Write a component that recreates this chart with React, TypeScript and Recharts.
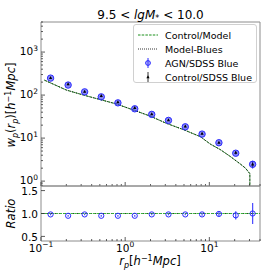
import React from 'react';
import { ComposedChart, Line, Scatter, XAxis, YAxis, ErrorBar, ReferenceLine, ReferenceArea } from 'recharts';

// measured points (13 rp bins)
const rp = [0.13, 0.21, 0.33, 0.52, 0.82, 1.3, 2.07, 3.27, 5.18, 8.2, 13.0, 20.6, 32.7];
const wpAgn = [248, 171, 119, 91, 66, 48, 35.6, 25.8, 18.3, 12.4, 7.8, 4.45, 2.46];
const wpAgnErr = [8, 5, 3.5, 2.5, 2, 1.5, 1.1, 0.8, 0.6, 0.45, 0.35, 0.35, 0.5];
const wpControl = [253, 180, 121, 96, 69, 50.5, 36.3, 26.3, 18.7, 12.7, 7.9, 4.6, 2.45];
const wpControlErr = [6, 4, 3, 2, 1.6, 1.2, 0.9, 0.7, 0.5, 0.4, 0.3, 0.3, 0.4];
const ratio = [0.98, 0.95, 0.98, 0.95, 0.95, 0.95, 0.98, 0.98, 0.98, 0.98, 0.99, 0.96, 1.0];
const ratioErr = [0.02, 0.02, 0.02, 0.02, 0.02, 0.02, 0.02, 0.02, 0.02, 0.03, 0.05, 0.09, 0.23];

// model curves
const rpModel = [0.11, 0.2, 0.32, 0.5, 0.79, 1.25, 1.98, 3.1, 4.9, 7.82, 10.3, 13.5, 17.8, 23.4, 26.9, 30.3, 30.3];
const wpControlModel = [222, 131, 100, 79, 62, 45, 32.5, 22, 15.8, 10.8, 7.24, 5.4, 3.72, 2.49, 2.0, 1.49, 0.01];
const wpModelBlues = [222, 131, 100, 79, 62, 45, 32.5, 22, 15.8, 10.8, 7.24, 5.4, 3.72, 2.49, 2.0, 1.49, 0.01];

// ticks
const xTicks = [0.1, 0.2, 0.3, 0.4, 0.5, 0.6, 0.7, 0.8, 0.9, 1, 2, 3, 4, 5, 6, 7, 8, 9, 10, 20, 30, 40];
const wpTicks = [0.8, 0.9, 1, 2, 3, 4, 5, 6, 7, 8, 9, 10, 20, 30, 40, 50, 60, 70, 80, 90,
  100, 200, 300, 400, 500, 600, 700, 800, 900, 1000, 2000, 3000, 4000, 5000];
const ratioTicks = [0.5, 1.0, 1.5];

const agnData = rp.map((r, i) => ({ rp: r, wp: wpAgn[i], err: wpAgnErr[i] }));
const controlData = rp.map((r, i) => ({ rp: r, wp: wpControl[i], err: wpControlErr[i] }));
const ratioData = rp.map((r, i) => ({ rp: r, ratio: ratio[i], err: ratioErr[i] }));
const controlModelData = rpModel.map((r, i) => ({ rp: r, wp: wpControlModel[i] }));
const modelBluesData = rpModel.map((r, i) => ({ rp: r, wp: wpModelBlues[i] }));

const FONT = '"DejaVu Sans", sans-serif';
const SPINE = '#8c8c8c';
const TICK = '#333';
const BLUE = '#2a2aff';
const GREEN = '#1a8f1a';

const isMajor = (v: number) => Math.abs(Math.log10(v) - Math.round(Math.log10(v))) < 1e-6;

const Pow10 = ({ x, y, v, anchor }: any) => {
  const e = Math.round(Math.log10(v));
  return (
    <text x={x} y={y} textAnchor={anchor} fontSize={10.5} fontFamily={FONT} fill="#000">
      10<tspan fontSize={7.5} dy={-4.5}>{e < 0 ? `\u2212${-e}` : `${e}`}</tspan>
    </text>
  );
};

const XTick = ({ x, y, payload, labels }: any) => {
  const major = isMajor(payload.value);
  return (
    <g>
      <line x1={x} x2={x} y1={y} y2={y - (major ? 4 : 2)} stroke={TICK} strokeWidth={0.8} />
      {labels && major && <Pow10 x={x} y={y + 10.5} v={payload.value} anchor="middle" />}
    </g>
  );
};

const LogYTick = ({ x, y, payload }: any) => {
  const major = isMajor(payload.value);
  return (
    <g>
      <line x1={x} x2={x + (major ? 4 : 2)} y1={y} y2={y} stroke={TICK} strokeWidth={0.8} />
      {major && <Pow10 x={x - 3} y={y + 3} v={payload.value} anchor="end" />}
    </g>
  );
};

const RatioTick = ({ x, y, payload }: any) => (
  <g>
    <line x1={x} x2={x + 4} y1={y} y2={y} stroke={TICK} strokeWidth={0.8} />
    <text x={x - 3} y={y + 4.5} textAnchor="end" fontSize={10.5} fontFamily={FONT} fill="#000">
      {payload.value.toFixed(1)}
    </text>
  </g>
);

const AgnDot = ({ cx, cy }: any) => (
  <circle cx={cx} cy={cy} r={3.2} stroke={BLUE} strokeWidth={1} fill="rgba(60,60,240,0.6)" />
);

const ControlDot = ({ cx, cy }: any) => (
  <path d={`M${cx},${cy - 1.8} L${cx + 1.6},${cy + 1.2} L${cx - 1.6},${cy + 1.2} Z`} fill="#000" />
);

const RatioDot = ({ cx, cy }: any) => (
  <circle cx={cx} cy={cy} r={2.6} stroke={BLUE} strokeWidth={1} fill="none" />
);

const legendItems = [
  { label: 'Control/Model', kind: 'green' },
  { label: 'Model-Blues', kind: 'black' },
  { label: 'AGN/SDSS Blue', kind: 'agn' },
  { label: 'Control/SDSS Blue', kind: 'control' },
];

const LegendBox = () => (
  <div
    style={{
      position: 'absolute', left: 133, top: 24, width: 122, height: 57,
      border: '1px solid #d0d0d0', borderRadius: 3, background: 'rgba(255,255,255,0.85)',
      fontFamily: FONT, fontSize: 9.5, color: '#000',
    }}
  >
    {legendItems.map((it, i) => (
      <div key={it.label} style={{ position: 'absolute', left: 3, top: 3 + i * 14, height: 14, display: 'flex', alignItems: 'center' }}>
        <svg width={22} height={14} style={{ marginRight: 6 }}>
          {it.kind === 'green' && <line x1={1} x2={21} y1={7} y2={7} stroke={GREEN} strokeWidth={1} strokeDasharray="2.5 1.2" />}
          {it.kind === 'black' && <line x1={1} x2={21} y1={7} y2={7} stroke="#000" strokeWidth={0.8} strokeDasharray="1 1" />}
          {it.kind === 'agn' && (
            <g>
              <line x1={11} x2={11} y1={2} y2={12} stroke={BLUE} strokeWidth={1} />
              <circle cx={11} cy={7} r={2.4} stroke={BLUE} fill="rgba(60,60,240,0.35)" />
            </g>
          )}
          {it.kind === 'control' && (
            <g>
              <line x1={11} x2={11} y1={2} y2={12} stroke="#000" strokeWidth={0.8} />
              <path d="M11,5.2 L12.6,8.2 L9.4,8.2 Z" fill="#000" />
            </g>
          )}
        </svg>
        <span style={{ whiteSpace: 'nowrap' }}>{it.label}</span>
      </div>
    ))}
  </div>
);

const Labels = () => (
  <svg width={274} height={274} style={{ position: 'absolute', left: 0, top: 0, pointerEvents: 'none' }}>
    <text x={150.5} y={18.5} textAnchor="middle" fontSize={12} fontFamily={FONT} fill="#000">
      9.5 &lt; <tspan fontStyle="italic">lgM</tspan>
      <tspan fontSize={8} dy={2.5}>*</tspan>
      <tspan dy={-2.5}> &lt; 10.0</tspan>
    </text>
    <text transform="translate(15,105) rotate(-90)" textAnchor="middle" fontSize={11.5} fontFamily={FONT} fill="#000">
      <tspan fontStyle="italic">w</tspan>
      <tspan fontStyle="italic" fontSize={8} dy={2.5}>p</tspan>
      <tspan dy={-2.5}>(</tspan>
      <tspan fontStyle="italic">r</tspan>
      <tspan fontStyle="italic" fontSize={8} dy={2.5}>p</tspan>
      <tspan dy={-2.5}>)[</tspan>
      <tspan fontStyle="italic">h</tspan>
      <tspan fontSize={8} dy={-4.5}>{'\u22121'}</tspan>
      <tspan fontStyle="italic" dy={4.5}>Mpc</tspan>
      <tspan>]</tspan>
    </text>
    <text transform="translate(15,213.5) rotate(-90)" textAnchor="middle" fontSize={11.5} fontStyle="italic" fontFamily={FONT} fill="#000">
      Ratio
    </text>
    <text x={150} y={265} textAnchor="middle" fontSize={11.5} fontFamily={FONT} fill="#000">
      <tspan fontStyle="italic">r</tspan>
      <tspan fontStyle="italic" fontSize={8} dy={2.5}>p</tspan>
      <tspan dy={-2.5}>[</tspan>
      <tspan fontStyle="italic">h</tspan>
      <tspan fontSize={8} dy={-4.5}>{'\u22121'}</tspan>
      <tspan fontStyle="italic" dy={4.5}>Mpc</tspan>
      <tspan>]</tspan>
    </text>
  </svg>
);

export default function App() {
  return (
    <div style={{ position: 'absolute', left: 0, top: 0, width: 274, height: 274, background: '#fff' }}>
      <div style={{ position: 'absolute', left: 0, top: 0 }}>
        <ComposedChart width={274} height={274} margin={{ top: 22, right: 14, bottom: 58, left: 0 }}>
          <XAxis
            dataKey="rp" type="number" scale="log" domain={[0.1, 40]} allowDataOverflow
            ticks={xTicks} interval={0} height={30} axisLine={false} tickLine={false}
            tickSize={0} tickMargin={0} tick={(p: any) => <XTick {...p} labels={false} />}
          />
          <YAxis
            type="number" scale="log" domain={[0.77, 5000]} allowDataOverflow
            ticks={wpTicks} interval={0} width={41} axisLine={false} tickLine={false}
            tickSize={0} tickMargin={0} tick={(p: any) => <LogYTick {...p} />}
          />
          <ReferenceArea x1={0.1} x2={40} y1={0.77} y2={5000} fill="none" stroke={SPINE} strokeWidth={1} />
          <Line data={controlModelData} dataKey="wp" stroke={GREEN} strokeWidth={1} strokeDasharray="2.5 1.2" dot={false} isAnimationActive={false} />
          <Line data={modelBluesData} dataKey="wp" stroke="#000" strokeWidth={0.8} strokeDasharray="1 1" dot={false} isAnimationActive={false} />
          <Scatter data={agnData} dataKey="wp" shape={(p: any) => <AgnDot {...p} />} isAnimationActive={false}>
            <ErrorBar dataKey="err" direction="y" width={0} stroke={BLUE} strokeWidth={1} />
          </Scatter>
          <Scatter data={controlData} dataKey="wp" shape={(p: any) => <ControlDot {...p} />} isAnimationActive={false}>
            <ErrorBar dataKey="err" direction="y" width={0} stroke="#000" strokeWidth={0.8} />
          </Scatter>
        </ComposedChart>
      </div>
      <div style={{ position: 'absolute', left: 0, top: 0 }}>
        <ComposedChart width={274} height={274} margin={{ top: 186, right: 14, bottom: 3, left: 0 }}>
          <XAxis
            dataKey="rp" type="number" scale="log" domain={[0.1, 40]} allowDataOverflow
            ticks={xTicks} interval={0} height={30} axisLine={false} tickLine={false}
            tickSize={0} tickMargin={0} tick={(p: any) => <XTick {...p} labels={true} />}
          />
          <YAxis
            type="number" domain={[0.4, 1.6]} allowDataOverflow
            ticks={ratioTicks} interval={0} width={41} axisLine={false} tickLine={false}
            tickSize={0} tickMargin={0} tick={(p: any) => <RatioTick {...p} />}
          />
          <ReferenceArea x1={0.1} x2={40} y1={0.4} y2={1.6} fill="none" stroke={SPINE} strokeWidth={1} />
          <ReferenceLine y={1} stroke="#000" strokeWidth={0.8} strokeDasharray="1 1" />
          <ReferenceLine y={1} stroke="#3cb83c" strokeWidth={1} strokeDasharray="2.5 1.2" />
          <Scatter data={ratioData} dataKey="ratio" shape={(p: any) => <RatioDot {...p} />} isAnimationActive={false}>
            <ErrorBar dataKey="err" direction="y" width={0} stroke={BLUE} strokeWidth={1.2} strokeOpacity={0.85} />
          </Scatter>
        </ComposedChart>
      </div>
      <Labels />
      <LegendBox />
    </div>
  );
}
